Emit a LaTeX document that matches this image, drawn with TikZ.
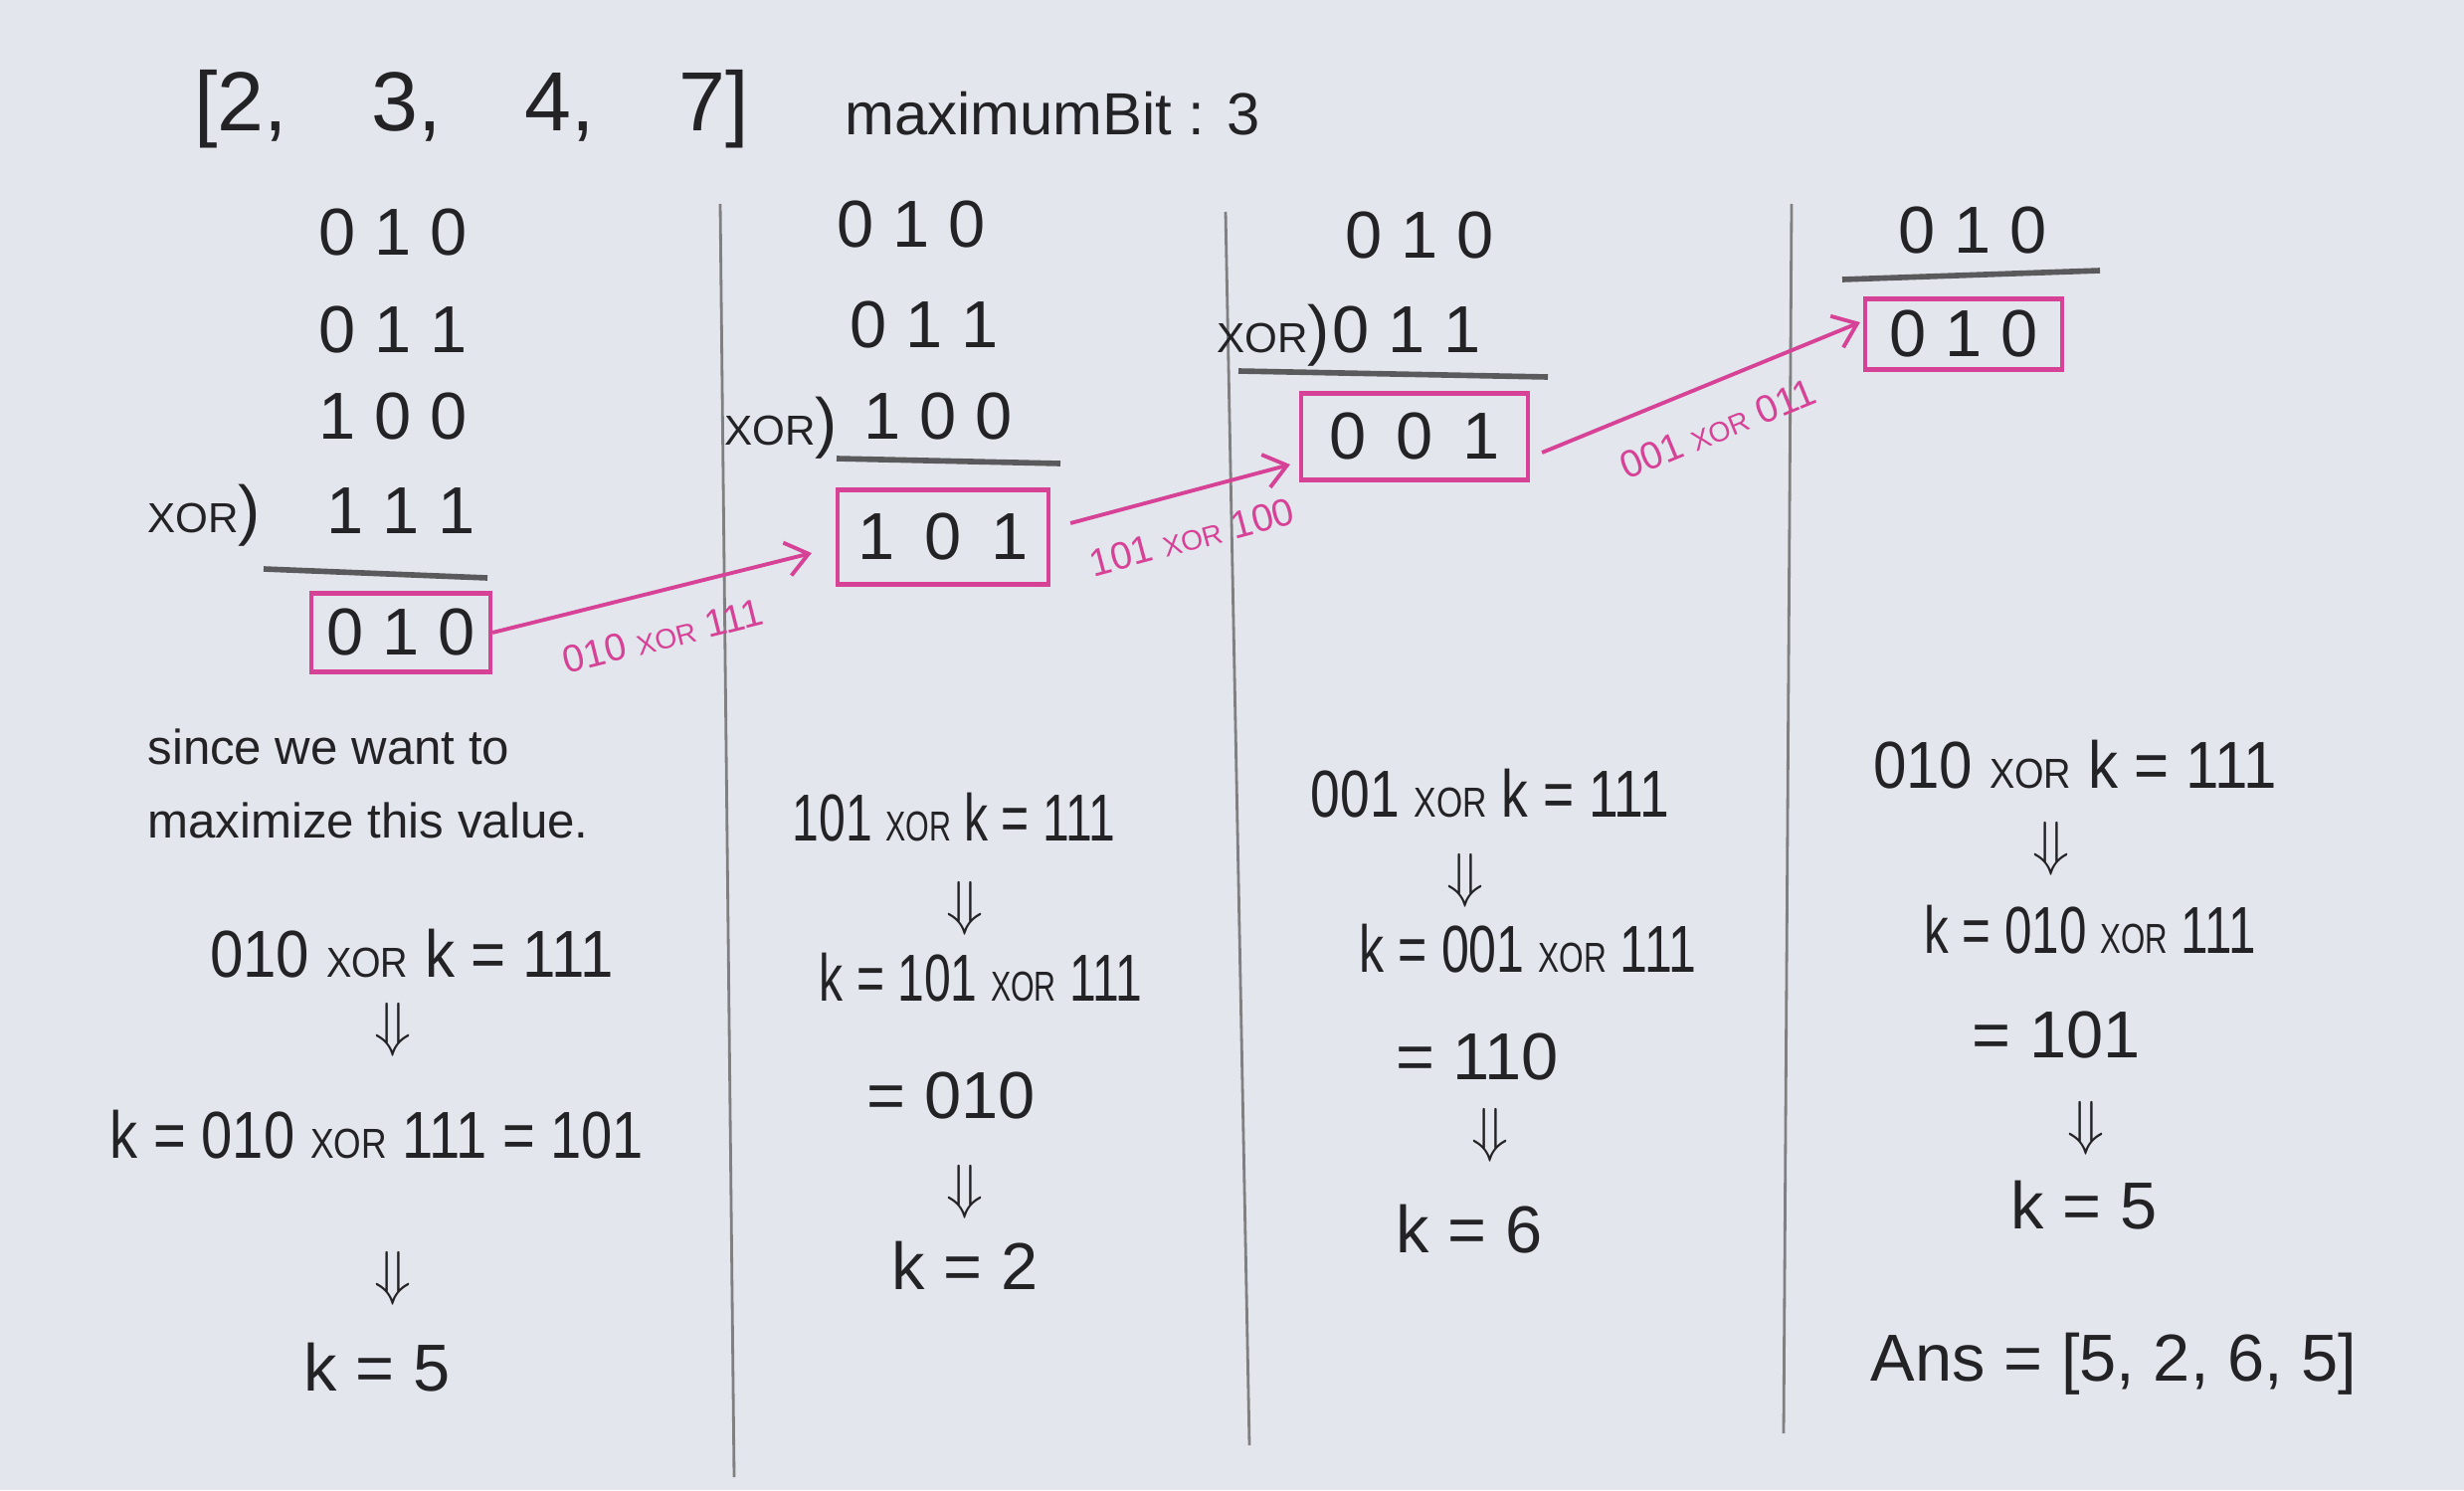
\documentclass[tikz,border=0pt]{standalone}
\usepackage{fontspec}
\setmainfont{Liberation Sans}
\usetikzlibrary{positioning,arrows.meta}
\definecolor{board}{RGB}{228,230,238}
\definecolor{ink}{RGB}{35,35,38}
\definecolor{marker}{RGB}{214,66,150}
\newcommand{\xor}{{\fontsize{12}{14}\selectfont XOR}}
\newcommand{\lxor}{{\fontsize{8}{10}\selectfont XOR}}
\newcommand{\dn}{$\Downarrow$}

\begin{document}
\begin{tikzpicture}[
                    >={Straight Barb[length=2.2mm,width=3.4mm]},
                    every node/.style={text=ink, font=\fontsize{19}{22}\selectfont},
                    narrow/.style={xscale=#1},
                    bitbox/.style={draw=marker, line width=1.2pt},
                    rule/.style={ink!75, line width=1.6pt},
                    divider/.style={gray, line width=0.8pt},
                    hop/.style={->, marker, line width=1.1pt},
                    hoplabel/.style={text=marker, font=\fontsize{11}{13}\selectfont, below=5pt}]

                \fill[board] (0,0) rectangle (24.77,-14.98);
                \useasboundingbox (0,0) rectangle (24.77,-14.98);

                % title
                \draw(4.74,-1.10) node (list) {\fontsize{24}{28}\selectfont [2,\quad 3,\quad 4,\quad 7]};
                \draw(10.58,-1.14) node (maxbit) {\fontsize{17}{20}\selectfont maximumBit : 3};

                % dividers
                \draw[divider] (7.24,-2.05) -- (7.38,-14.85);
                \draw[divider] (12.32,-2.13) -- (12.56,-14.53);
                \draw[divider] (18.01,-2.05) -- (17.93,-14.41);

                % column 1
                \draw(3.95,-2.34) node (c1r1) {0 1 0};
                \draw(3.95,-3.32) node (c1r2) {0 1 1};
                \draw(3.95,-4.19) node (c1r3) {1 0 0};
                \draw(2.05,-5.18) node (c1op) {\xor)};
                \draw(4.03,-5.14) node (c1r4) {1 1 1};
                \draw[rule] (2.65,-5.72) -- (4.90,-5.81);
                \draw(4.03,-6.36) node[bitbox, minimum width=1.8cm, minimum height=0.79cm] (b1) {0 1 0};

                % column 2
                \draw(9.16,-2.26) node (c2r1) {0 1 0};
                \draw(9.29,-3.27) node (c2r2) {0 1 1};
                \draw(7.85,-4.30) node (c2op) {\xor)};
                \draw(9.43,-4.19) node (c2r3) {1 0 0};
                \draw[rule] (8.41,-4.61) -- (10.66,-4.66);
                \draw(9.48,-5.40) node[bitbox, minimum width=2.12cm, minimum height=0.95cm] (b2) {1\, 0\, 1};

                % column 3
                \draw(14.27,-2.37) node (c3r1) {0 1 0};
                \draw(12.80,-3.37) node (c3op) {\xor)};
                \draw(14.14,-3.32) node (c3r2) {0 1 1};
                \draw[rule] (12.45,-3.73) -- (15.56,-3.79);
                \draw(14.22,-4.39) node[bitbox, minimum width=2.28cm, minimum height=0.87cm] (b3) {0\, 0\, 1};

                % column 4
                \draw(19.83,-2.32) node (c4r1) {0 1 0};
                \draw[rule] (18.52,-2.81) -- (21.11,-2.72);
                \draw(19.74,-3.36) node[bitbox, minimum width=1.98cm, minimum height=0.71cm] (b4) {0 1 0};

                % carries
                \draw[hop] (b1.east) -- ([xshift=-0.24cm,yshift=-0.16cm]b2.west) node[midway, sloped, hoplabel] {010 \lxor{} 111};
                \draw[hop] ([xshift=0.2cm,yshift=0.14cm]b2.east) -- ([xshift=-0.09cm,yshift=-0.28cm]b3.west) node[midway, sloped, hoplabel] {101 \lxor{} 100};
                \draw[hop] ([xshift=0.12cm,yshift=-0.16cm]b3.east) -- ([xshift=-0.03cm,yshift=0.12cm]b4.west) node[midway, sloped, hoplabel] {001 \lxor{} 011};

                % working, column 1
                \draw(3.70,-7.88) node[align=left, font=\fontsize{14}{21}\selectfont] (why) {since we want to\\maximize this value.};
                \draw(4.14,-9.59) node[narrow=0.9] (c1eq) {010 \xor{} k = 111};
                \draw(3.95,-10.35) node (c1d1) {\dn};
                \draw(3.79,-11.41) node[narrow=0.84] (c1k) {k = 010 \xor{} 111 = 101};
                \draw(3.95,-12.85) node (c1d2) {\dn};
                \draw(3.79,-13.75) node (c1res) {k = 5};

                % working, column 2
                \draw(9.59,-8.22) node[narrow=0.72] (c2eq) {101 \xor{} k = 111};
                \draw(9.70,-9.13) node (c2d1) {\dn};
                \draw(9.86,-9.83) node[narrow=0.72] (c2k) {k = 101 \xor{} 111};
                \draw(9.56,-11.01) node (c2val) {= 010};
                \draw(9.70,-11.98) node (c2d2) {\dn};
                \draw(9.70,-12.72) node (c2res) {k = 2};

                % working, column 3
                \draw(14.98,-7.98) node[narrow=0.8] (c3eq) {001 \xor{} k = 111};
                \draw(14.73,-8.85) node (c3d1) {\dn};
                \draw(15.36,-9.54) node[narrow=0.75] (c3k) {k = 001 \xor{} 111};
                \draw(14.85,-10.62) node (c3val) {= 110};
                \draw(14.98,-11.41) node (c3d2) {\dn};
                \draw(14.77,-12.36) node (c3res) {k = 6};

                % working, column 4
                \draw(20.86,-7.69) node[narrow=0.9] (c4eq) {010 \xor{} k = 111};
                \draw(20.62,-8.53) node (c4d1) {\dn};
                \draw(21.01,-9.35) node[narrow=0.74] (c4k) {k = 010 \xor{} 111};
                \draw(20.67,-10.40) node (c4val) {= 101};
                \draw(20.97,-11.34) node (c4d2) {\dn};
                \draw(20.95,-12.12) node (c4res) {k = 5};
                \draw(21.25,-13.71) node (ans) {Ans = [5, 2, 6, 5]};

            \end{tikzpicture}
\end{document}
